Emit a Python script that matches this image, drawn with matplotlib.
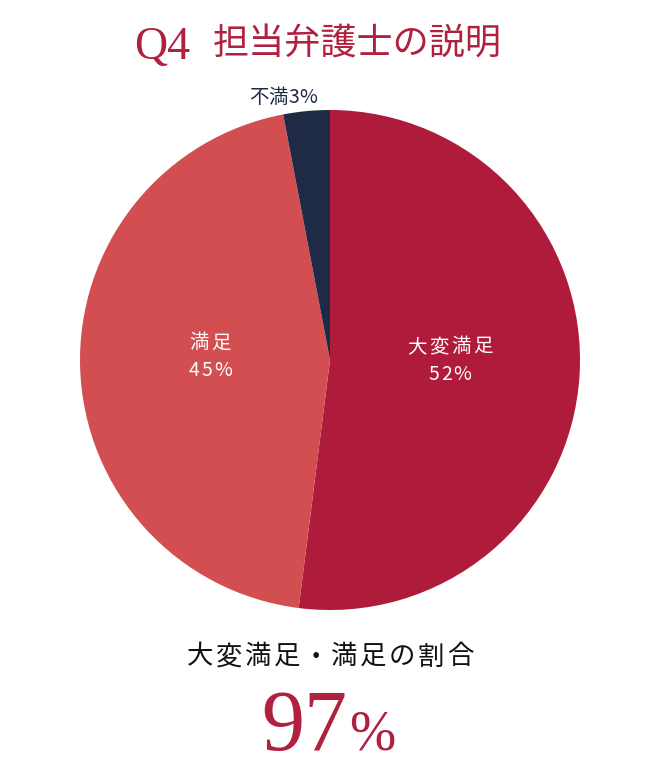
import matplotlib
matplotlib.use("Agg")
import matplotlib.pyplot as plt
import numpy as np

# ---- data ----
categories = ["大変満足", "満足", "不満"]
values = [52, 45, 3]
colors = ["#AF1C3B", "#D24E50", "#1F2B45"]
title_q = "Q4"
title_text = "担当弁護士の説明"
summary_label = "大変満足・満足の割合"
summary_value = "97"

W, H = 660, 762
JP = ["Noto Sans CJK JP", "DejaVu Sans"]
SERIF = ["Liberation Serif", "DejaVu Serif"]

fig = plt.figure(figsize=(W / 100, H / 100), dpi=100)
fig.patch.set_facecolor("white")
renderer = fig.canvas.get_renderer()


def spaced(x, y, s, spacing, **kw):
    """Draw string s centered at pixel (x, y from top) with letter spacing."""
    widths = []
    for ch in s:
        t = fig.text(0, 0, ch, **kw)
        widths.append(t.get_window_extent(renderer).width)
        t.remove()
    total = sum(widths) + spacing * (len(s) - 1)
    cur = x - total / 2
    for ch, w in zip(s, widths):
        fig.text(cur / W, 1 - y / H, ch, ha="left", va="center", **kw)
        cur += w + spacing


# ---- pie ----
ax = fig.add_axes([80 / W, (H - 610) / H, 500 / W, 500 / H])
wedges, _ = ax.pie(values, colors=colors, startangle=90, counterclock=False,
                   radius=1, wedgeprops=dict(linewidth=0))
ax.set_xlim(-1, 1)
ax.set_ylim(-1, 1)
ax.set_aspect("equal")
ax.axis("off")

for i, (w, cat, v) in enumerate(zip(wedges, categories, values)):
    if v >= 10:
        mid = np.deg2rad((w.theta1 + w.theta2) / 2)
        r = 0.48
        px, py = ax.transData.transform((r * np.cos(mid), r * np.sin(mid)))
        ytop = H - py
        spaced(px, ytop - 21, cat, 2.3, fontsize=14, color="white", family=JP)
        spaced(px, ytop + 7, f"{v}%", 2, fontsize=14, color="white", family=JP)
    else:
        ang = np.deg2rad(w.theta2)
        r = 1.07
        px, py = ax.transData.transform((r * np.cos(ang), r * np.sin(ang)))
        spaced(px + 3, H - py, f"{cat}{v}%", 0, fontsize=14, color=colors[i], family=JP)

# ---- title ----
title_color = "#B0213F"
fig.text(134 / W, 1 - 59 / H, title_q, ha="left", va="baseline", fontsize=33,
         color=title_color, family=SERIF)
fig.text(213 / W, 1 - 45 / H, title_text, ha="left", va="center", fontsize=26,
         color=title_color, family=JP)

# ---- summary ----
spaced(330, 657, summary_label, 2.5, fontsize=19, color="#111111", family=JP)
fig.text(347 / W, 1 - 750 / H, summary_value, ha="right", va="baseline", fontsize=62,
         color=title_color, family=SERIF)
fig.text(349 / W, 1 - 750 / H, "%", ha="left", va="baseline", fontsize=40,
         color=title_color, family=SERIF)

fig.savefig("out.png", dpi=100, facecolor="white")
